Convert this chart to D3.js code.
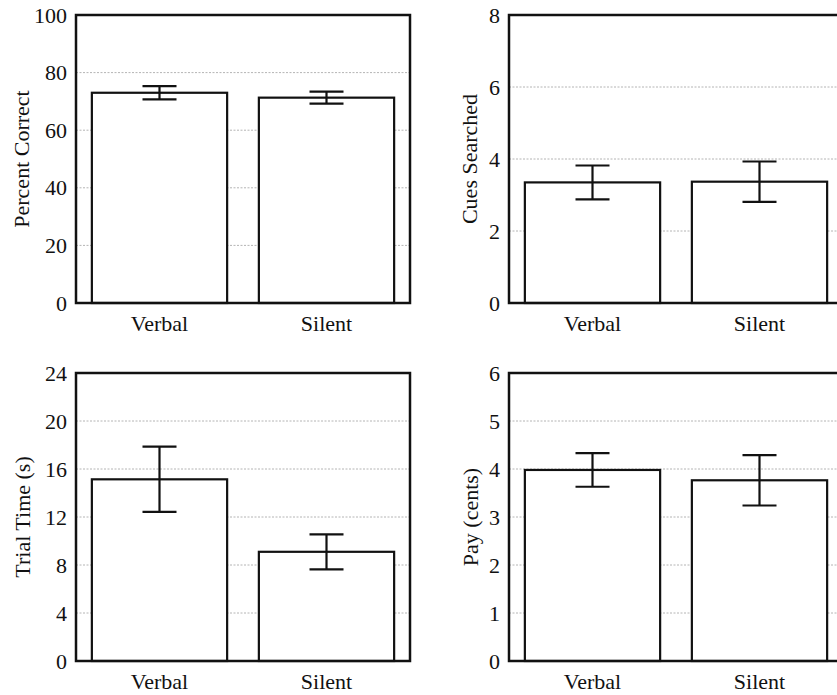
<!DOCTYPE html>
<html>
<head>
<meta charset="utf-8">
<script src="https://cdn.jsdelivr.net/npm/d3@7"></script>
<style>
  html, body { margin: 0; padding: 0; background: #fff; }
  svg { display: block; }
  svg text { font-family: "Liberation Serif", "Times New Roman", Times, "DejaVu Serif", serif !important; fill: #111; }
</style>
</head>
<body>
<svg id="chart" width="837" height="695"></svg>
<script>
// ---- Data ----
const categories = ["Verbal", "Silent"];

const percentCorrect = [73.0, 71.3];
const percentCorrectErr = [2.3, 2.1];
const percentCorrectTicks = [0, 20, 40, 60, 80, 100];

const cuesSearched = [3.35, 3.37];
const cuesSearchedErr = [0.47, 0.56];
const cuesSearchedTicks = [0, 2, 4, 6, 8];

const trialTime = [15.14, 9.1];
const trialTimeErr = [2.72, 1.46];
const trialTimeTicks = [0, 4, 8, 12, 16, 20, 24];

const pay = [3.98, 3.765];
const payErr = [0.35, 0.525];
const payTicks = [0, 1, 2, 3, 4, 5, 6];

const yLabels = ["Percent Correct", "Cues Searched", "Trial Time (s)", "Pay (cents)"];

// ---- Layout ----
const panels = [
  { x0: 76,  y0: 15,  values: percentCorrect, errs: percentCorrectErr, ticks: percentCorrectTicks, label: yLabels[0], labelOff: 55 },
  { x0: 509, y0: 15,  values: cuesSearched,   errs: cuesSearchedErr,   ticks: cuesSearchedTicks,   label: yLabels[1], labelOff: 40 },
  { x0: 76,  y0: 373, values: trialTime,      errs: trialTimeErr,      ticks: trialTimeTicks,      label: yLabels[2], labelOff: 54 },
  { x0: 509, y0: 373, values: pay,            errs: payErr,            ticks: payTicks,            label: yLabels[3], labelOff: 39 }
];
const W = 334, H = 288;
const capW = 34;
const FS = 22;
const FONT = '"Liberation Serif", "Times New Roman", Times, "DejaVu Serif", serif';

const svg = d3.select("#chart");

panels.forEach(p => {
  const g = svg.append("g").attr("transform", `translate(${p.x0},${p.y0})`);
  const x = d3.scaleBand().domain(categories).range([0, W]).paddingInner(0.19).paddingOuter(0.095);
  const y = d3.scaleLinear().domain([p.ticks[0], p.ticks[p.ticks.length - 1]]).range([H, 0]);

  // gridlines
  g.append("g").selectAll("line")
    .data(p.ticks.slice(1, -1))
    .join("line")
    .attr("x1", 0).attr("x2", W)
    .attr("y1", d => y(d)).attr("y2", d => y(d))
    .attr("stroke", "#b4b4b4").attr("stroke-width", 1)
    .attr("stroke-dasharray", "2,1.5");

  // bars
  g.append("g").selectAll("rect")
    .data(categories)
    .join("rect")
    .attr("x", d => x(d))
    .attr("width", x.bandwidth())
    .attr("y", (d, i) => y(p.values[i]))
    .attr("height", (d, i) => H - y(p.values[i]))
    .attr("fill", "#fff").attr("stroke", "#111").attr("stroke-width", 2.2);

  // error bars
  const eb = g.append("g").attr("stroke", "#111").attr("stroke-width", 2.2).attr("fill", "none");
  categories.forEach((c, i) => {
    const cx = x(c) + x.bandwidth() / 2;
    const hi = y(p.values[i] + p.errs[i]);
    const lo = y(p.values[i] - p.errs[i]);
    eb.append("line").attr("x1", cx).attr("x2", cx).attr("y1", hi).attr("y2", lo);
    eb.append("line").attr("x1", cx - capW / 2).attr("x2", cx + capW / 2).attr("y1", hi).attr("y2", hi);
    eb.append("line").attr("x1", cx - capW / 2).attr("x2", cx + capW / 2).attr("y1", lo).attr("y2", lo);
  });

  // frame
  g.append("rect")
    .attr("x", 0).attr("y", 0).attr("width", W).attr("height", H)
    .attr("fill", "none").attr("stroke", "#111").attr("stroke-width", 2.5);

  // y axis labels (no tick marks)
  const yAxis = d3.axisLeft(y).tickValues(p.ticks).tickSize(0).tickPadding(9).tickFormat(d3.format("d"));
  const ya = g.append("g").call(yAxis).attr("font-family", FONT).attr("font-size", FS);
  ya.select(".domain").remove();
  ya.selectAll("text").attr("font-size", FS).attr("fill", "#111");

  // x axis labels
  const xAxis = d3.axisBottom(x).tickSize(0).tickPadding(12);
  const xa = g.append("g").attr("transform", `translate(0,${H})`).call(xAxis).attr("font-family", FONT).attr("font-size", FS);
  xa.select(".domain").remove();
  xa.selectAll("text").attr("font-size", FS).attr("fill", "#111");

  // y title
  g.append("text")
    .attr("transform", `translate(${-p.labelOff},${H / 2}) rotate(-90)`)
    .attr("text-anchor", "middle")
    .attr("dominant-baseline", "central")
    .attr("font-family", FONT)
    .attr("font-size", FS)
    .text(p.label);
});
</script>
</body>
</html>
